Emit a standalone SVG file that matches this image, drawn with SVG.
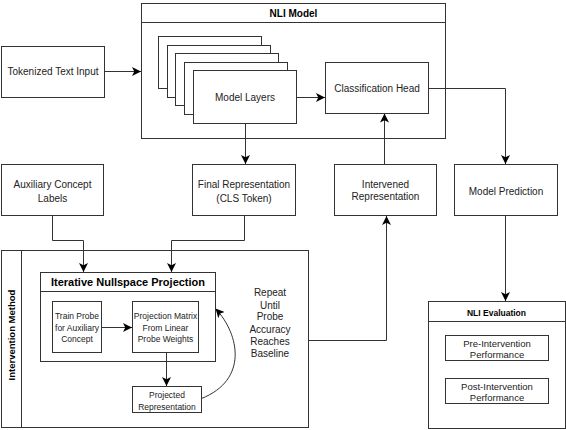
<svg xmlns="http://www.w3.org/2000/svg" width="566" height="430" viewBox="0 0 566 430">
<style>
  .box { fill: #fff; stroke: #333; stroke-width: 1; }
  .ln { fill: none; stroke: #333; stroke-width: 1; }
  .t { font-family: "Liberation Sans", Arial, sans-serif; font-size: 10px; fill: #222; text-anchor: middle; }
  .s { font-size: 8.5px; }
  .m { font-size: 9.5px; }
  .b { font-weight: bold; fill: #000; }
</style>
<defs>
  <marker id="arr" markerUnits="userSpaceOnUse" markerWidth="9" markerHeight="9" viewBox="0 0 8 8" refX="8" refY="4" orient="auto">
    <path d="M0,0 L8,4 L0,8 L2,4 z" fill="#000"/>
  </marker>
</defs>
<rect width="566" height="430" fill="#fff"/>

<g id="tokenized-input">
  <rect class="box" x="1.5" y="46.5" width="103" height="51"/>
  <text class="t" x="53" y="75">Tokenized Text Input</text>
</g>

<g id="nli-model">
  <rect class="box" x="141.5" y="3.5" width="304" height="135"/>
  <line class="ln" x1="141.5" y1="22.5" x2="445.5" y2="22.5"/>
  <text class="t b" x="293.5" y="16.5">NLI Model</text>
</g>

<g id="model-layers">
  <rect class="box" x="158.5" y="36.5" width="103" height="52"/>
  <rect class="box" x="167.5" y="45.5" width="103" height="52"/>
  <rect class="box" x="175.5" y="53.5" width="103" height="52"/>
  <rect class="box" x="184.5" y="62.5" width="103" height="52"/>
  <rect class="box" x="193.5" y="70.5" width="103" height="53"/>
  <text class="t" x="245" y="101">Model Layers</text>
</g>

<g id="classification-head">
  <rect class="box" x="325.5" y="62.5" width="103" height="51"/>
  <text class="t" x="377" y="91.5">Classification Head</text>
</g>

<g id="aux-labels">
  <rect class="box" x="1.5" y="164.5" width="102" height="51"/>
  <text class="t" x="52.5" y="187.5">Auxiliary Concept</text>
  <text class="t" x="52.5" y="201.5">Labels</text>
</g>

<g id="final-representation">
  <rect class="box" x="192.5" y="164.5" width="103" height="51"/>
  <text class="t" x="244" y="187.5">Final Representation</text>
  <text class="t" x="244" y="201.5">(CLS Token)</text>
</g>

<g id="intervened-representation">
  <rect class="box" x="334.5" y="164.5" width="102" height="51"/>
  <text class="t" x="385.5" y="187.5">Intervened</text>
  <text class="t" x="385.5" y="200">Representation</text>
</g>

<g id="model-prediction">
  <rect class="box" x="454.5" y="164.5" width="103" height="51"/>
  <text class="t" x="506" y="194.5">Model Prediction</text>
</g>

<g id="intervention-method">
  <rect class="box" x="1.5" y="250.5" width="307" height="177"/>
  <line class="ln" x1="21.5" y1="250.5" x2="21.5" y2="427.5"/>
  <text class="t b m" transform="translate(15,335) rotate(-90)" x="0" y="0">Intervention Method</text>
  <text class="t" x="270" y="296">Repeat</text>
  <text class="t" x="270" y="308.5">Until</text>
  <text class="t" x="270" y="320">Probe</text>
  <text class="t" x="270" y="332.5">Accuracy</text>
  <text class="t" x="270" y="345">Reaches</text>
  <text class="t" x="270" y="357">Baseline</text>
</g>

<g id="inp">
  <rect class="box" x="40.5" y="272.5" width="175" height="89"/>
  <line class="ln" x1="40.5" y1="291.5" x2="215.5" y2="291.5"/>
  <text class="t b" style="font-size:11px" x="128" y="286">Iterative Nullspace Projection</text>
</g>

<g id="train-probe">
  <rect class="box" x="52.5" y="301.5" width="49" height="51"/>
  <text class="t s" x="77" y="319">Train Probe</text>
  <text class="t s" x="77" y="330.5">for Auxiliary</text>
  <text class="t s" x="77" y="342">Concept</text>
</g>

<g id="projection-matrix">
  <rect class="box" x="132.5" y="301.5" width="66" height="51"/>
  <text class="t s" x="165.5" y="319">Projection Matrix</text>
  <text class="t s" x="165.5" y="330.5">From Linear</text>
  <text class="t s" x="165.5" y="342">Probe Weights</text>
</g>

<g id="projected-representation">
  <rect class="box" x="132.5" y="386.5" width="69" height="26"/>
  <text class="t s" x="167" y="397.5">Projected</text>
  <text class="t s" x="167" y="410">Representation</text>
</g>

<g id="nli-evaluation">
  <rect class="box" x="428.5" y="301.5" width="137" height="127"/>
  <line class="ln" x1="428.5" y1="321.5" x2="565.5" y2="321.5"/>
  <text class="t b s" x="496.5" y="315.5">NLI Evaluation</text>
  <rect class="box" x="445.5" y="335.5" width="103" height="25"/>
  <text class="t m" x="497" y="346.5">Pre-Intervention</text>
  <text class="t m" x="497" y="357.5">Performance</text>
  <rect class="box" x="445.5" y="378.5" width="103" height="25"/>
  <text class="t m" x="497" y="389.5">Post-Intervention</text>
  <text class="t m" x="497" y="400.5">Performance</text>
</g>

<g id="connectors">
  <path class="ln" d="M104.5,71.5 L141,71.5" marker-end="url(#arr)"/>
  <path class="ln" d="M296.5,97.5 L325,97.5" marker-end="url(#arr)"/>
  <path class="ln" d="M245.5,123.5 L245.5,164" marker-end="url(#arr)"/>
  <path class="ln" d="M428.5,88.5 L505.5,88.5 L505.5,164" marker-end="url(#arr)"/>
  <path class="ln" d="M384.5,164.5 L384.5,113.5" marker-end="url(#arr)"/>
  <path class="ln" d="M52.5,215.5 L52.5,240.5 L83.5,240.5 L83.5,272" marker-end="url(#arr)"/>
  <path class="ln" d="M244.5,215.5 L244.5,240.5 L171.5,240.5 L171.5,272" marker-end="url(#arr)"/>
  <path class="ln" d="M308.5,340.5 L386.5,340.5 L386.5,216" marker-end="url(#arr)"/>
  <path class="ln" d="M505.5,215.5 L505.5,301" marker-end="url(#arr)"/>
  <path class="ln" d="M101.5,327.5 L132,327.5" marker-end="url(#arr)"/>
  <path class="ln" d="M166.5,352.5 L166.5,386" marker-end="url(#arr)"/>
  <path class="ln" d="M201.5,398.5 C248,380 240,335 215.5,308.5" marker-end="url(#arr)"/>
</g>
</svg>
